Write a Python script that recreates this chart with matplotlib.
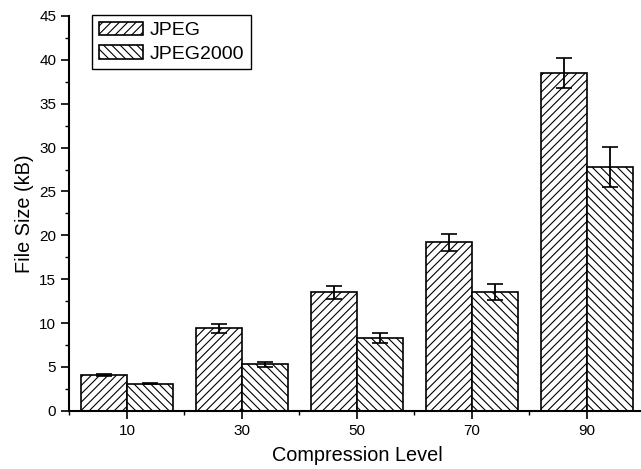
import numpy as np
import matplotlib
matplotlib.use('Agg')
import matplotlib.pyplot as plt
from matplotlib.ticker import MultipleLocator

plt.rcParams['font.family'] = ['Liberation Sans', 'DejaVu Sans']
plt.rcParams['hatch.linewidth'] = 0.8

# Data
levels = [10, 30, 50, 70, 90]
jpeg = [4.1, 9.4, 13.5, 19.2, 38.5]
jpeg_err = [0.12, 0.55, 0.75, 1.0, 1.7]
jpeg2000 = [3.1, 5.3, 8.3, 13.5, 27.8]
jpeg2000_err = [0.06, 0.3, 0.55, 0.9, 2.3]

fig = plt.figure(figsize=(6.41, 4.69), dpi=100)
ax = fig.add_axes([0.1084, 0.124, 0.897, 0.842])

x = np.array(levels, dtype=float)
w = 8
err_kw = dict(ecolor='black', elinewidth=1.3, capsize=6, capthick=1.2)
ax.bar(x - w / 2, jpeg, width=w, color='white', edgecolor='black', linewidth=1.2,
       hatch='////', yerr=jpeg_err, error_kw=err_kw, label='JPEG')
ax.bar(x + w / 2, jpeg2000, width=w, color='white', edgecolor='black', linewidth=1.2,
       hatch='\\\\\\\\', yerr=jpeg2000_err, error_kw=err_kw, label='JPEG2000')

ax.set_xlim(0, 100)
ax.set_ylim(0, 45)
ax.set_xticks(levels)
ax.xaxis.set_minor_locator(MultipleLocator(20))
ax.yaxis.set_major_locator(MultipleLocator(5))
ax.yaxis.set_minor_locator(MultipleLocator(2.5))

for s in ['top', 'right']:
    ax.spines[s].set_visible(False)
for s in ['left', 'bottom']:
    ax.spines[s].set_linewidth(1.5)

ax.tick_params(axis='both', which='major', direction='out', length=6, width=1.2, labelsize=11)
ax.tick_params(axis='both', which='minor', direction='out', length=3, width=1.0)

ax.set_xlabel('Compression Level', fontsize=14.3, labelpad=6)
ax.set_ylabel('File Size (kB)', fontsize=14.3)

leg = ax.legend(loc='upper left', bbox_to_anchor=(0.039, 1.003), fontsize=14, fancybox=False,
                edgecolor='black', framealpha=1, borderpad=0.35, labelspacing=0.3,
                handlelength=2.3, handletextpad=0.3, borderaxespad=0.0)
leg.get_frame().set_linewidth(1.0)

fig.savefig('out.png', dpi=100)
